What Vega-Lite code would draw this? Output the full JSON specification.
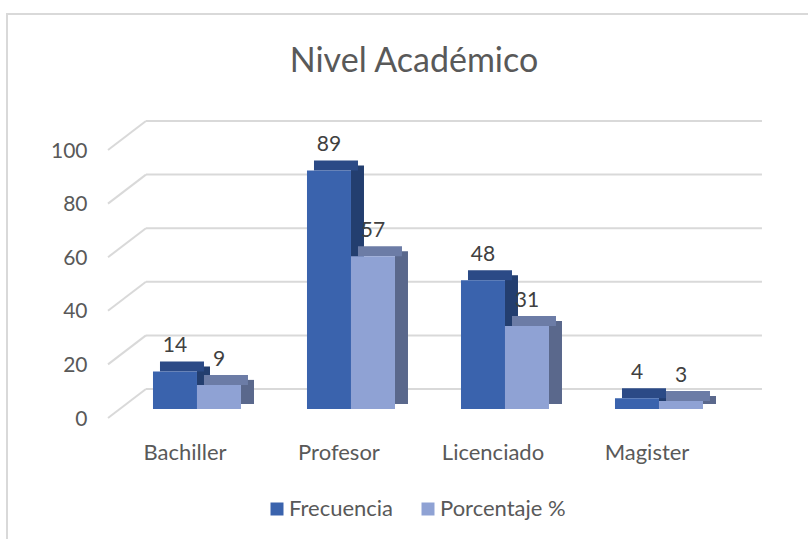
{
  "$schema": "https://vega.github.io/schema/vega-lite/v6.json",
  "autosize": {"type": "none"},
  "padding": {"left": 7, "top": 14, "right": 0, "bottom": 0},
  "width": 820,
  "height": 540,
  "background": "white",
  "title": {
    "text": "Nivel Académico",
    "font": "Lato",
    "fontSize": 34,
    "fontWeight": "normal",
    "color": "#595959",
    "anchor": "middle",
    "frame": "group",
    "baseline": "alphabetic",
    "offset": -92,
    "dx": -3
  },
  "config": {
    "font": "Lato",
    "view": {"stroke": "#D9D9D9", "strokeWidth": 2, "fill": "white"}
  },
  "datasets": {
    "main": [
      {"categoria": "Bachiller", "serie": "Frecuencia", "valor": 14},
      {"categoria": "Bachiller", "serie": "Porcentaje %", "valor": 9},
      {"categoria": "Profesor", "serie": "Frecuencia", "valor": 89},
      {"categoria": "Profesor", "serie": "Porcentaje %", "valor": 57},
      {"categoria": "Licenciado", "serie": "Frecuencia", "valor": 48},
      {"categoria": "Licenciado", "serie": "Porcentaje %", "valor": 31},
      {"categoria": "Magister", "serie": "Frecuencia", "valor": 4},
      {"categoria": "Magister", "serie": "Porcentaje %", "valor": 3}
    ],
    "grid": [{"v": 0}, {"v": 20}, {"v": 40}, {"v": 60}, {"v": 80}, {"v": 100}]
  },
  "data": {"name": "main"},
  "resolve": {"scale": {"color": "independent", "xOffset": "independent"}},
  "layer": [
    {
      "data": {"name": "grid"},
      "mark": {"type": "rule", "color": "#D9D9D9", "strokeWidth": 2, "yOffset": -20, "y2Offset": -20},
      "encoding": {
        "x": {"datum": "Bachiller", "bandPosition": -0.08, "type": "nominal"},
        "x2": {"datum": "Magister", "bandPosition": 1.67},
        "y": {"field": "v", "type": "quantitative"},
        "y2": {"field": "v"}
      }
    },
    {
      "data": {"name": "grid"},
      "mark": {"type": "rule", "color": "#D9D9D9", "strokeWidth": 2, "yOffset": 9, "y2Offset": -20},
      "encoding": {
        "x": {"datum": "Bachiller", "bandPosition": -0.511, "type": "nominal"},
        "x2": {"datum": "Bachiller", "bandPosition": -0.08},
        "y": {"field": "v", "type": "quantitative"},
        "y2": {"field": "v"}
      }
    },
    {
      "mark": {"type": "bar", "yOffset": -5, "y2Offset": -5},
      "encoding": {
        "x": {"field": "categoria", "type": "nominal", "sort": ["Bachiller", "Profesor", "Licenciado", "Magister"]},
        "xOffset": {"field": "serie", "type": "nominal",
          "scale": {"domain": ["Frecuencia", "Porcentaje %"], "range": [44, 101], "paddingInner": 0.7045, "paddingOuter": 0}},
        "y": {"field": "valor", "type": "quantitative"},
        "y2": {"datum": 0},
        "color": {"field": "serie", "type": "nominal", "legend": null,
          "scale": {"domain": ["Frecuencia", "Porcentaje %"], "range": ["#233E6F", "#5A688C"]}}
      }
    },
    {
      "mark": {"type": "bar", "yOffset": -10, "y2Offset": 0},
      "encoding": {
        "x": {"field": "categoria", "type": "nominal", "sort": ["Bachiller", "Profesor", "Licenciado", "Magister"]},
        "xOffset": {"field": "serie", "type": "nominal",
          "scale": {"domain": ["Frecuencia", "Porcentaje %"], "range": [7, 95], "paddingInner": 0, "paddingOuter": 0}},
        "y": {"field": "valor", "type": "quantitative"},
        "y2": {"field": "valor"},
        "color": {"field": "serie", "type": "nominal", "legend": null,
          "scale": {"domain": ["Frecuencia", "Porcentaje %"], "range": ["#2B4A86", "#6C7CA6"]}}
      }
    },
    {
      "mark": {"type": "bar"},
      "encoding": {
        "x": {"field": "categoria", "type": "nominal", "sort": ["Bachiller", "Profesor", "Licenciado", "Magister"],
          "scale": {"paddingInner": 0.42857, "paddingOuter": 0.8766, "align": 0.5407, "round": false},
          "axis": {"title": null, "domain": false, "ticks": false, "tickSize": 0, "labelPadding": -102, "labelBaseline": "middle",
            "labelAlign": "center", "labelOffset": -12, "labelAngle": 0, "labelFontSize": 22, "labelColor": "#595959", "labelFont": "Lato"}},
        "xOffset": {"field": "serie", "type": "nominal",
          "scale": {"domain": ["Frecuencia", "Porcentaje %"], "paddingInner": 0, "paddingOuter": 0}},
        "y": {"field": "valor", "type": "quantitative",
          "scale": {"domain": [-54.1, 147.39], "nice": false, "zero": false},
          "axis": {"title": null, "values": [0, 20, 40, 60, 80, 100], "grid": false, "domain": false, "ticks": false, "tickSize": 0,
            "labelPadding": -80, "labelOffset": 10, "labelFontSize": 21, "labelColor": "#595959", "labelFont": "Lato"}},
        "y2": {"datum": 0},
        "color": {"field": "serie", "type": "nominal",
          "scale": {"domain": ["Frecuencia", "Porcentaje %"], "range": ["#3A63AD", "#8FA2D4"]},
          "legend": {"title": null, "orient": "none", "legendX": 259, "legendY": 484, "direction": "horizontal",
            "symbolType": "square", "symbolSize": 169, "symbolStrokeWidth": 0, "labelFontSize": 22, "labelColor": "#595959",
            "labelFont": "Lato", "labelOffset": 1, "columnPadding": 23, "padding": 0}}
      }
    },
    {
      "mark": {"type": "text", "fontSize": 21, "color": "#404040", "baseline": "middle", "yOffset": -25},
      "encoding": {
        "x": {"field": "categoria", "type": "nominal", "sort": ["Bachiller", "Profesor", "Licenciado", "Magister"]},
        "xOffset": {"field": "serie", "type": "nominal",
          "scale": {"type": "point", "domain": ["Frecuencia", "Porcentaje %"], "range": [0, 88], "padding": 0.5}},
        "y": {"field": "valor", "type": "quantitative"},
        "text": {"field": "valor", "type": "quantitative"}
      }
    }
  ]
}
